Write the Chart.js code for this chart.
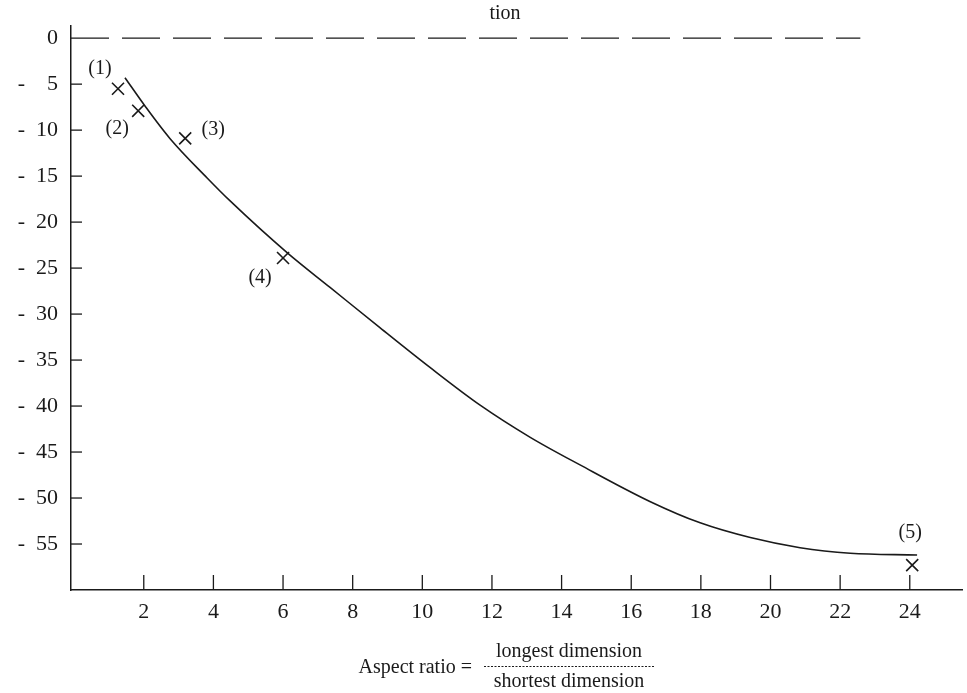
<!DOCTYPE html>
<html>
<head>
<meta charset="utf-8">
<script src="https://cdn.jsdelivr.net/npm/chart.js@4.4.1/dist/chart.umd.min.js"></script>
<style>
  html, body { margin: 0; padding: 0; background: #fff; }
  #wrap { width: 967px; height: 693px; }
</style>
</head>
<body>
<div id="wrap"><canvas id="grafica" width="967" height="693"></canvas></div>
<script>
// datos
const curveX = [1.46, 2.04, 2.75, 3.82, 4.48, 6.14, 7.35, 8.79, 10.22, 11.66, 13.10, 14.53, 16.55, 17.98, 19.42, 20.85, 22.29, 24.21];
const curveY = [-4.3, -7.4, -10.9, -15.2, -17.7, -23.4, -27.1, -31.5, -35.8, -39.9, -43.4, -46.4, -50.4, -52.7, -54.3, -55.4, -56.0, -56.2];

const pointX = [1.26, 1.84, 3.19, 6.0, 24.07];
const pointY = [-5.5, -7.9, -10.9, -23.9, -57.3];
const pointLabels = ['(1)', '(2)', '(3)', '(4)', '(5)'];

// linea discontinua en cero
const zeroX = [-0.09, 22.58];
const zeroY = [0, 0];

const xTicks = [2, 4, 6, 8, 10, 12, 14, 16, 18, 20, 22, 24];
const yTicks = [0, -5, -10, -15, -20, -25, -30, -35, -40, -45, -50, -55];

const titleText = 'tion';
const xTitle = 'Aspect ratio =';
const xTitleNum = 'longest dimension';
const xTitleDen = 'shortest dimension';

const serif = '"Liberation Serif", "DejaVu Serif", serif';
const ink = '#1a1a1a';

// desplazamiento de las etiquetas (1)..(5) respecto a cada marca, en px
const labelOffsets = [[-18, -20], [-21, 18], [28, -9], [-23, 20], [-2, -32]];

const extras = {
    id: 'extras',
    afterDraw(chart) {
        const ctx = chart.ctx;
        const xs = chart.scales.x;
        const ys = chart.scales.y;
        const area = chart.chartArea;
        ctx.save();
        ctx.strokeStyle = ink;
        ctx.lineWidth = 1.3;
        // marcas hacia dentro
        xTicks.forEach(v => {
            const px = xs.getPixelForValue(v);
            ctx.beginPath();
            ctx.moveTo(px, area.bottom);
            ctx.lineTo(px, area.bottom - 15);
            ctx.stroke();
        });
        yTicks.forEach(v => {
            if (v === 0) return;
            const py = ys.getPixelForValue(v);
            ctx.beginPath();
            ctx.moveTo(area.left, py);
            ctx.lineTo(area.left + 11, py);
            ctx.stroke();
        });

        // etiquetas de los puntos
        ctx.fillStyle = ink;
        ctx.font = '20px ' + serif;
        ctx.textAlign = 'center';
        ctx.textBaseline = 'middle';
        pointLabels.forEach((t, i) => {
            const px = xs.getPixelForValue(pointX[i]) + labelOffsets[i][0];
            const py = ys.getPixelForValue(pointY[i]) + labelOffsets[i][1];
            ctx.fillText(t, px, py);
        });

        // titulo recortado
        ctx.font = '20px ' + serif;
        ctx.fillText(titleText, 505, 14);

        // titulo del eje x con fraccion
        ctx.textAlign = 'right';
        ctx.fillText(xTitle, 472, 668);
        ctx.textAlign = 'center';
        ctx.fillText(xTitleNum, 569, 652);
        ctx.fillText(xTitleDen, 569, 682);
        ctx.lineWidth = 1;
        ctx.setLineDash([2, 1.5]);
        ctx.beginPath();
        ctx.moveTo(484, 666.5);
        ctx.lineTo(655, 666.5);
        ctx.stroke();
        ctx.restore();
    }
};

const data = {
    datasets: [
        {
            type: 'line',
            label: 'curva',
            data: curveX.map((x, i) => ({ x: x, y: curveY[i] })),
            borderColor: ink,
            borderWidth: 1.6,
            pointRadius: 0,
            cubicInterpolationMode: 'monotone',
            fill: false
        },
        {
            type: 'line',
            label: 'cero',
            data: zeroX.map((x, i) => ({ x: x, y: zeroY[i] })),
            borderColor: ink,
            borderWidth: 1.2,
            borderDash: [38, 13],
            pointRadius: 0,
            fill: false
        },
        {
            type: 'scatter',
            label: 'puntos',
            data: pointX.map((x, i) => ({ x: x, y: pointY[i] })),
            pointStyle: 'crossRot',
            pointRadius: 8.5,
            borderColor: ink,
            borderWidth: 1.6,
            backgroundColor: ink
        }
    ]
};

const config = {
    type: 'scatter',
    data: data,
    options: {
        responsive: false,
        animation: false,
        layout: { autoPadding: false, padding: { top: 25, right: 5, left: 0, bottom: 0 } },
        plugins: {
            legend: { display: false },
            tooltip: { enabled: false },
            title: { display: false }
        },
        scales: {
            x: {
                type: 'linear',
                min: -0.09,
                max: 25.5,
                afterBuildTicks: s => { s.ticks = xTicks.map(v => ({ value: v })); },
                afterFit: s => { s.height = 103; },
                grid: { display: true, drawOnChartArea: false, drawTicks: false },
                border: { display: true, color: ink, width: 1.5 },
                ticks: {
                    color: ink,
                    font: { family: serif, size: 22 },
                    padding: 9,
                    maxRotation: 0,
                    autoSkip: false
                }
            },
            y: {
                type: 'linear',
                min: -60,
                max: 1.3,
                afterBuildTicks: s => { s.ticks = yTicks.map(v => ({ value: v })); },
                afterFit: s => { s.width = 71; },
                grid: { display: true, drawOnChartArea: false, drawTicks: false },
                border: { display: true, color: ink, width: 1.5 },
                ticks: {
                    color: ink,
                    font: { family: serif, size: 22 },
                    padding: 13,
                    autoSkip: false,
                    callback: v => {
                        if (v === 0) return '0';
                        const a = Math.abs(v);
                        return '-  ' + (a < 10 ? '\u2007' : '') + a;
                    }
                }
            }
        }
    },
    plugins: [extras]
};

var Grafico = new Chart(document.getElementById('grafica'), config);
</script>
</body>
</html>
